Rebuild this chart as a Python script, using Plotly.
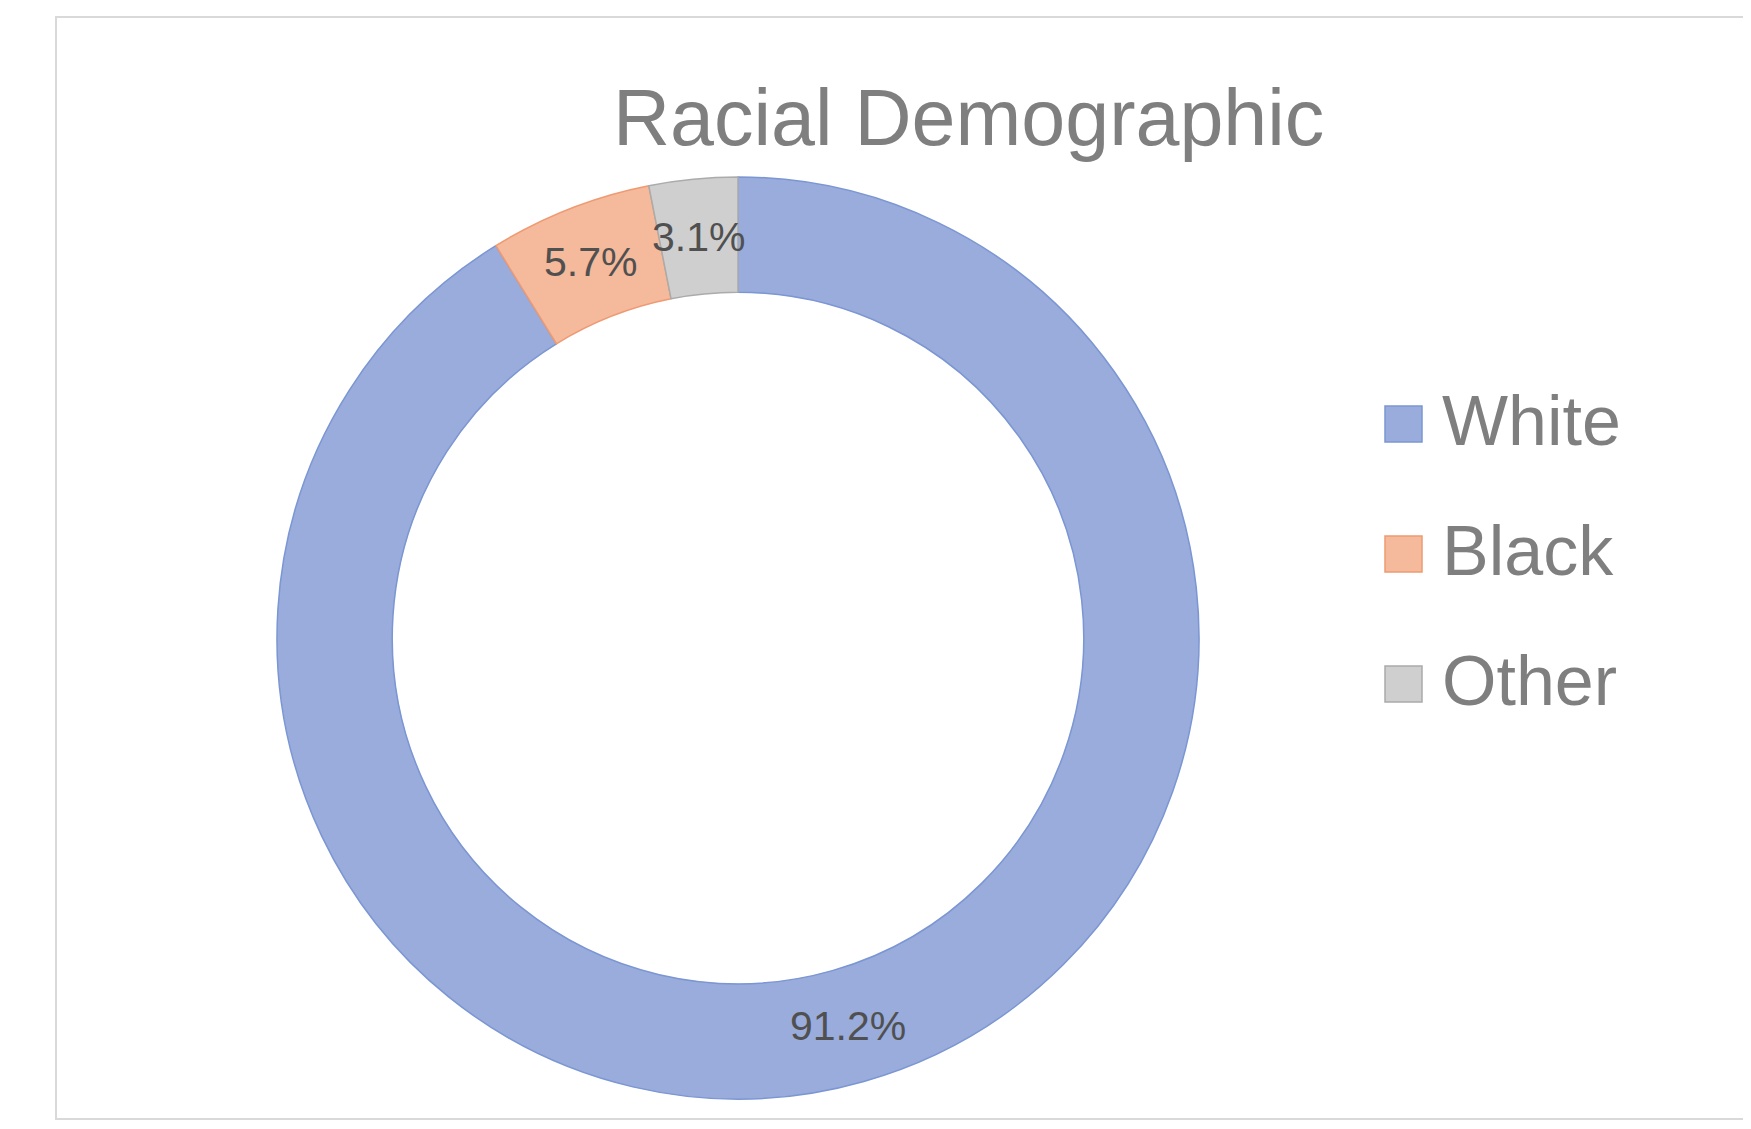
import math
import plotly.graph_objects as go

categories = ["White", "Black", "Other"]
shares = [91.2, 5.7, 3.1]
label_texts = ["91.2%", "5.7%", "3.1%"]
fill_colors = ["#99acdc", "#f5b99b", "#cfcfcf"]
edge_colors = ["#7b96d2", "#ee9a72", "#ababab"]
chart_title = "Racial Demographic"

W, H = 1751, 1129          # screenshot size
OFF = 8                    # default page body margin
FW, FH = W - 2 * OFF, H - 2 * OFF
CX, CY, R = 738, 638, 461
HOLE = 0.75
FONT = "Liberation Sans, Arial, sans-serif"


def px(x):
    return (x - OFF) / FW


def py(y):
    return 1 - (y - OFF) / FH


fig = go.Figure()
fig.add_trace(go.Pie(
    labels=categories,
    values=shares,
    hole=HOLE,
    sort=False,
    direction="clockwise",
    rotation=0,
    textinfo="none",
    hoverinfo="label+percent",
    marker=dict(colors=fill_colors, line=dict(color=edge_colors, width=1.5)),
    domain=dict(x=[px(CX - R), px(CX + R)], y=[py(CY + R), py(CY - R)]),
    showlegend=False,
))

annotations = []
# data labels at the middle of each ring segment
total = sum(shares)
cum = 0.0
rm = R * (1 + HOLE) / 2
for v, t in zip(shares, label_texts):
    mid = (cum + v / 2) / total
    cum += v
    ang = 2 * math.pi * mid
    x = CX + rm * math.sin(ang)
    y = CY - rm * math.cos(ang)
    annotations.append(dict(
        x=px(x), y=py(y), xref="paper", yref="paper", text=t, showarrow=False,
        xanchor="center", yanchor="middle",
        font=dict(family=FONT, size=41, color="#505050"),
    ))

# title
annotations.append(dict(
    x=px(969), y=py(118), xref="paper", yref="paper", text=chart_title, showarrow=False,
    xanchor="center", yanchor="middle",
    font=dict(family=FONT, size=79, color="#7f7f7f"),
))

# custom legend
shapes = []
leg_y = [424, 554, 684]
for i, (name, fc, ec) in enumerate(zip(categories, fill_colors, edge_colors)):
    yc = leg_y[i]
    shapes.append(dict(
        type="rect", xref="paper", yref="paper",
        x0=px(1385), x1=px(1422), y0=py(yc + 18), y1=py(yc - 18),
        fillcolor=fc, line=dict(color=ec, width=1.5),
    ))
    annotations.append(dict(
        x=px(1440), y=py(yc - 3), xref="paper", yref="paper", text=name, showarrow=False,
        xanchor="left", yanchor="middle",
        font=dict(family=FONT, size=70, color="#7f7f7f"),
    ))

# chart area border
shapes.append(dict(
    type="rect", xref="paper", yref="paper",
    x0=px(56), x1=px(1780), y0=py(1119), y1=py(17),
    line=dict(color="#d9d9d9", width=2), fillcolor="rgba(0,0,0,0)", layer="below",
))

fig.update_layout(
    width=FW, height=FH,
    margin=dict(l=0, r=0, t=0, b=0),
    paper_bgcolor="white",
    plot_bgcolor="white",
    annotations=annotations,
    shapes=shapes,
)

fig.write_html("out.html")
